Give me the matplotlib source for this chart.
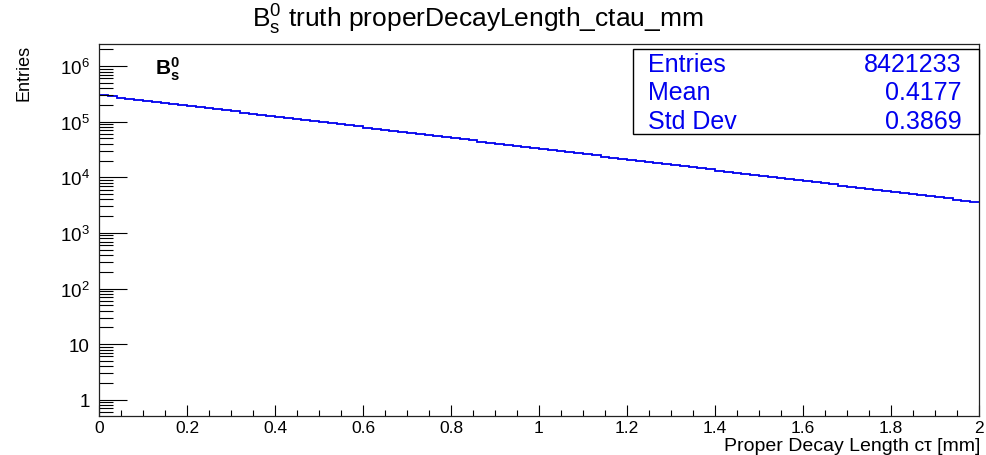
import numpy as np
import matplotlib
matplotlib.use("Agg")
import matplotlib.pyplot as plt
from matplotlib.patches import Rectangle
from matplotlib.ticker import FixedLocator, FixedFormatter, LogLocator, MultipleLocator

plt.rcParams['font.family'] = ['Liberation Sans', 'DejaVu Sans']
plt.rcParams['mathtext.fontset'] = 'custom'
plt.rcParams['mathtext.rm'] = 'Liberation Sans'
plt.rcParams['mathtext.it'] = 'Liberation Sans:italic'
plt.rcParams['mathtext.bf'] = 'Liberation Sans:bold'

# ---- data ----
x_min, x_max, n_bins = 0.0, 2.0, 100
counts = [
    298100, 285130, 272730, 260870, 249520, 238660, 228280, 218350, 208850, 199770,
    191080, 182770, 174820, 167210, 159940, 152980, 146330, 139960, 133870, 128050,
    122480, 117150, 112060, 107180, 102520, 98060, 93790, 89710, 85810, 82080,
    78510, 75090, 71830, 68700, 65710, 62850, 60120, 57510, 55000, 52610,
    50320, 48130, 46040, 44040, 42120, 40290, 38540, 36860, 35260, 33720,
    32260, 30850, 29510, 28230, 27000, 25820, 24700, 23630, 22600, 21620,
    20680, 19780, 18920, 18090, 17310, 16550, 15830, 15150, 14490, 13860,
    13250, 12680, 12130, 11600, 11090, 10610, 10150, 9707, 9285, 8881,
    8495, 8125, 7772, 7434, 7111, 6802, 6506, 6223, 5952, 5693,
    5445, 5208, 4981, 4764, 4557, 4359, 4169, 3988, 3815, 3649,
]
title_text = r"$\mathrm{B}^{0}_{\mathrm{s}}$ truth properDecayLength_ctau_mm"
xlabel_text = "Proper Decay Length cτ [mm]"
ylabel_text = "Entries"
x_ticks = [0, 0.2, 0.4, 0.6, 0.8, 1.0, 1.2, 1.4, 1.6, 1.8, 2.0]
x_tick_labels = ["0", "0.2", "0.4", "0.6", "0.8", "1", "1.2", "1.4", "1.6", "1.8", "2"]
y_ticks = [1, 10, 1e2, 1e3, 1e4, 1e5, 1e6]
y_tick_labels = ["1", "10", r"$10^{2}$", r"$10^{3}$", r"$10^{4}$", r"$10^{5}$", r"$10^{6}$"]
stat_names = ["Entries", "Mean", "Std Dev"]
stat_values = ["8421233", "0.4177", "0.3869"]
hist_label = r"$\mathbf{B^{0}_{s}}$"

edges = np.linspace(x_min, x_max, n_bins + 1)

fig = plt.figure(figsize=(9.87, 4.56), dpi=100)
ax = fig.add_axes([99 / 987, 1 - 417 / 456, 880 / 987, 372 / 456])

blue = '#0000ee'
ax.stairs(counts, edges, baseline=None, color=blue, linewidth=1.3)

ax.set_yscale('log')
ax.set_xlim(x_min, x_max)
ax.set_ylim(0.51, 2.5e6)

ax.yaxis.set_major_locator(FixedLocator(y_ticks))
ax.yaxis.set_major_formatter(FixedFormatter(y_tick_labels))
ax.yaxis.set_minor_locator(LogLocator(base=10, subs=np.arange(2, 10)))
ax.yaxis.set_minor_formatter(FixedFormatter([]))
ax.xaxis.set_major_locator(FixedLocator(x_ticks))
ax.xaxis.set_major_formatter(FixedFormatter(x_tick_labels))
ax.xaxis.set_minor_locator(MultipleLocator(0.05))

ax.tick_params(axis='y', which='major', direction='in', length=20, width=0.8,
               labelsize=13.5, pad=6.5, right=False)
ax.tick_params(axis='y', which='minor', direction='in', length=10, width=0.8, right=False)
ax.tick_params(axis='x', which='major', direction='in', length=8, width=0.8,
               labelsize=12.5, pad=3, top=False)
ax.tick_params(axis='x', which='minor', direction='in', length=4, width=0.8, top=False)
for s in ax.spines.values():
    s.set_linewidth(0.9)
    s.set_color('#222222')

# title and axis labels
fig.text(478 / 987, 1 - 28 / 456, title_text, ha='center', va='baseline', fontsize=19)
fig.text(0.993, 1 - 451 / 456, xlabel_text, ha='right', va='baseline', fontsize=14)
fig.text(24 / 987, 1 - 45 / 456, ylabel_text, rotation=90, ha='center', va='top', fontsize=13)

# histogram name label
ax.text(155 / 987, 1 - 75 / 456, hist_label, transform=fig.transFigure,
        ha='left', va='baseline', fontsize=15)

# stat box
bx0, bx1 = 633 / 987, 979 / 987
by0, by1 = 1 - 135 / 456, 1 - 50 / 456
fig.patches.append(Rectangle((bx0, by0), bx1 - bx0, by1 - by0, transform=fig.transFigure,
                             facecolor='white', edgecolor='black', linewidth=1.0, zorder=5))
row_y = [65, 93, 122]
for name, val, ry in zip(stat_names, stat_values, row_y):
    fig.text(648 / 987, 1 - ry / 456, name, ha='left', va='center', fontsize=18,
             color=blue, zorder=6)
    fig.text(962 / 987, 1 - ry / 456, val, ha='right', va='center', fontsize=18,
             color=blue, zorder=6)

fig.savefig('out.png', dpi=100)
